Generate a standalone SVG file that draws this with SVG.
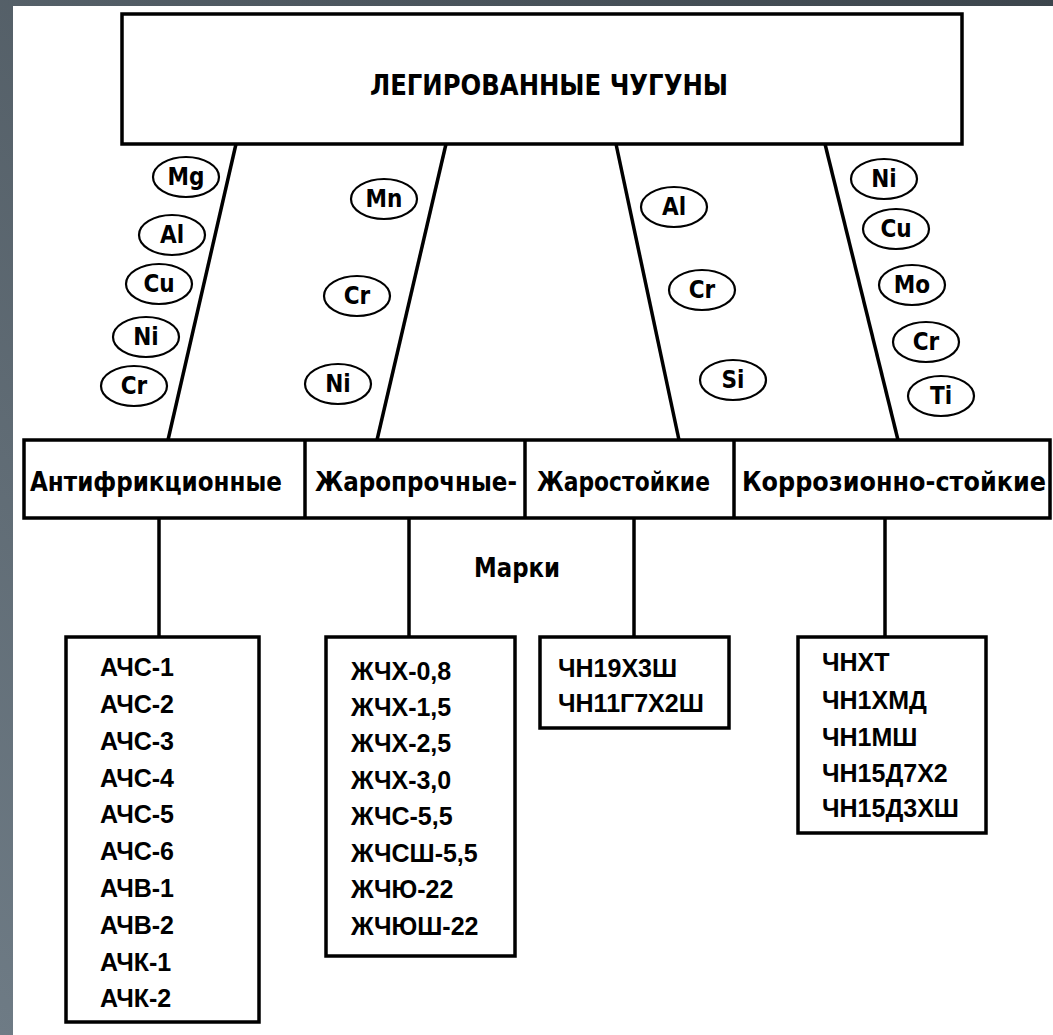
<svg xmlns="http://www.w3.org/2000/svg" width="1053" height="1035" viewBox="0 0 1053 1035">
<defs>
<linearGradient id="bg" x1="0" y1="1" x2="1" y2="0">
<stop offset="0" stop-color="#6e7b85"/>
<stop offset="1" stop-color="#3c454c"/>
</linearGradient>
</defs>
<style>
.box{fill:#fff;stroke:#000;stroke-width:3.5}
.el{fill:#fff;stroke:#000;stroke-width:2.2}
.ln{stroke:#000;stroke-width:3.5;fill:none}
.t{font-family:"DejaVu Sans Condensed","Liberation Sans",sans-serif;font-weight:bold;fill:#000}
.et{font-size:24px;text-anchor:middle;dominant-baseline:central}
.ct{font-size:26px;dominant-baseline:central}
.mk{font-family:"Liberation Sans",sans-serif;font-weight:bold;font-size:25px;fill:#000;dominant-baseline:central}
</style>
<rect width="1053" height="1035" fill="url(#bg)"/>
<rect x="13" y="6" width="1040" height="1029" fill="#fff"/>

<g id="connectors">
<line class="ln" x1="236" y1="144" x2="168" y2="440"/>
<line class="ln" x1="446" y1="144" x2="377" y2="440"/>
<line class="ln" x1="616" y1="144" x2="679" y2="440"/>
<line class="ln" x1="825" y1="144" x2="898" y2="440"/>
<line class="ln" x1="159" y1="518" x2="159" y2="637"/>
<line class="ln" x1="409" y1="518" x2="409" y2="637"/>
<line class="ln" x1="634" y1="518" x2="634" y2="637"/>
<line class="ln" x1="885" y1="518" x2="885" y2="637"/>
</g>

<g id="root">
<rect class="box" x="122" y="14" width="840" height="130"/>
<text class="t" x="549" y="85" font-size="28" text-anchor="middle" dominant-baseline="central" textLength="358" lengthAdjust="spacingAndGlyphs">ЛЕГИРОВАННЫЕ ЧУГУНЫ</text>
</g>

<g id="elements">
<ellipse class="el" cx="186" cy="177" rx="33" ry="20"/><text class="t et" x="186" y="177">Mg</text>
<ellipse class="el" cx="172" cy="235" rx="33" ry="20"/><text class="t et" x="172" y="235">Al</text>
<ellipse class="el" cx="159" cy="284" rx="33" ry="20"/><text class="t et" x="159" y="284">Cu</text>
<ellipse class="el" cx="146" cy="337" rx="33" ry="20"/><text class="t et" x="146" y="337">Ni</text>
<ellipse class="el" cx="134" cy="386" rx="33" ry="20"/><text class="t et" x="134" y="386">Cr</text>
<ellipse class="el" cx="384" cy="199" rx="33" ry="20"/><text class="t et" x="384" y="199">Mn</text>
<ellipse class="el" cx="357" cy="296" rx="33" ry="20"/><text class="t et" x="357" y="296">Cr</text>
<ellipse class="el" cx="338" cy="384" rx="33" ry="20"/><text class="t et" x="338" y="384">Ni</text>
<ellipse class="el" cx="674" cy="207" rx="33" ry="20"/><text class="t et" x="674" y="207">Al</text>
<ellipse class="el" cx="702" cy="290" rx="33" ry="20"/><text class="t et" x="702" y="290">Cr</text>
<ellipse class="el" cx="733" cy="380" rx="33" ry="20"/><text class="t et" x="733" y="380">Si</text>
<ellipse class="el" cx="884" cy="179" rx="33" ry="20"/><text class="t et" x="884" y="179">Ni</text>
<ellipse class="el" cx="896" cy="229" rx="33" ry="20"/><text class="t et" x="896" y="229">Cu</text>
<ellipse class="el" cx="912" cy="285" rx="33" ry="20"/><text class="t et" x="912" y="285">Mo</text>
<ellipse class="el" cx="926" cy="342" rx="33" ry="20"/><text class="t et" x="926" y="342">Cr</text>
<ellipse class="el" cx="941" cy="396" rx="33" ry="20"/><text class="t et" x="941" y="396">Ti</text>
</g>

<g id="categories">
<rect class="box" x="24" y="440" width="1026" height="78"/>
<line class="ln" x1="305" y1="440" x2="305" y2="518"/>
<line class="ln" x1="525" y1="440" x2="525" y2="518"/>
<line class="ln" x1="734" y1="440" x2="734" y2="518"/>
<text class="t ct" x="30" y="482" textLength="252" lengthAdjust="spacingAndGlyphs">Антифрикционные</text>
<text class="t ct" x="315" y="482" textLength="202" lengthAdjust="spacingAndGlyphs">Жаропрочные-</text>
<text class="t ct" x="537" y="482" textLength="173" lengthAdjust="spacingAndGlyphs">Жаростойкие</text>
<text class="t ct" x="742" y="482" textLength="304" lengthAdjust="spacingAndGlyphs">Коррозионно-стойкие</text>
</g>

<g id="label-marki">
<text class="t" x="517" y="568" font-size="26" text-anchor="middle" dominant-baseline="central" textLength="86" lengthAdjust="spacingAndGlyphs">Марки</text>
</g>

<g id="marks-antifriction">
<rect class="box" x="66" y="637" width="193" height="385"/>
<text class="mk" x="100" y="667">АЧС-1</text>
<text class="mk" x="100" y="704">АЧС-2</text>
<text class="mk" x="100" y="741">АЧС-3</text>
<text class="mk" x="100" y="778">АЧС-4</text>
<text class="mk" x="100" y="814">АЧС-5</text>
<text class="mk" x="100" y="851">АЧС-6</text>
<text class="mk" x="100" y="888">АЧВ-1</text>
<text class="mk" x="100" y="925">АЧВ-2</text>
<text class="mk" x="100" y="962">АЧК-1</text>
<text class="mk" x="100" y="998">АЧК-2</text>
</g>

<g id="marks-heatresistant">
<rect class="box" x="326" y="637" width="189" height="319"/>
<text class="mk" x="351" y="671">ЖЧХ-0,8</text>
<text class="mk" x="351" y="707">ЖЧХ-1,5</text>
<text class="mk" x="351" y="743">ЖЧХ-2,5</text>
<text class="mk" x="351" y="780">ЖЧХ-3,0</text>
<text class="mk" x="351" y="816">ЖЧС-5,5</text>
<text class="mk" x="351" y="853">ЖЧСШ-5,5</text>
<text class="mk" x="351" y="889">ЖЧЮ-22</text>
<text class="mk" x="351" y="926">ЖЧЮШ-22</text>
</g>

<g id="marks-scaleresistant">
<rect class="box" x="540" y="637" width="189" height="91"/>
<text class="mk" x="558" y="668">ЧН19Х3Ш</text>
<text class="mk" x="558" y="703">ЧН11Г7Х2Ш</text>
</g>

<g id="marks-corrosion">
<rect class="box" x="798" y="637" width="188" height="196"/>
<text class="mk" x="822" y="662">ЧНХТ</text>
<text class="mk" x="822" y="700">ЧН1ХМД</text>
<text class="mk" x="822" y="737">ЧН1МШ</text>
<text class="mk" x="822" y="773">ЧН15Д7Х2</text>
<text class="mk" x="822" y="808">ЧН15Д3ХШ</text>
</g>
</svg>
